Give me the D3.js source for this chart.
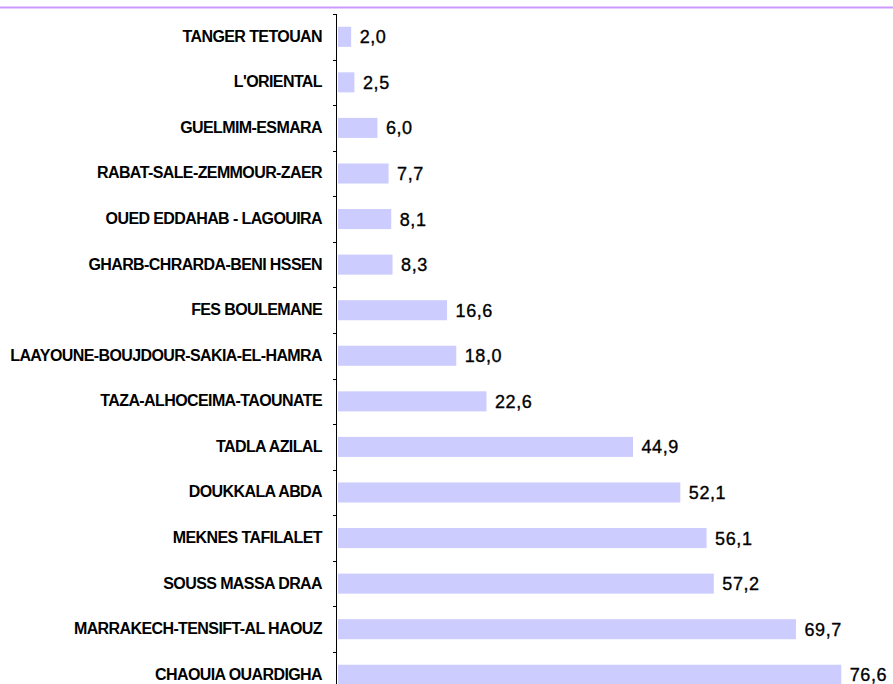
<!DOCTYPE html>
<html lang="fr">
<head>
  <meta charset="UTF-8" />
  <title>Régions</title>
  <script src="https://d3js.org/d3.v7.min.js"></script>
  <style>
    body {
      margin: 0;
      background: #fff;
    }
    svg {
      display: block;
    }
    .cat-label {
      font-family: "Liberation Sans", Arial, sans-serif;
      font-weight: bold;
      font-size: 16px;
      letter-spacing: -0.6px;
    }
    .val-label {
      font-family: "Liberation Sans", Arial, sans-serif;
      font-size: 18px;
      letter-spacing: 0.6px;
      stroke: #000;
      stroke-width: 0.35px;
    }
  </style>
</head>
<body>
  <div id="chart"></div>
  <script>
    const regions = [
      "TANGER TETOUAN",
      "L'ORIENTAL",
      "GUELMIM-ESMARA",
      "RABAT-SALE-ZEMMOUR-ZAER",
      "OUED EDDAHAB - LAGOUIRA",
      "GHARB-CHRARDA-BENI HSSEN",
      "FES BOULEMANE",
      "LAAYOUNE-BOUJDOUR-SAKIA-EL-HAMRA",
      "TAZA-ALHOCEIMA-TAOUNATE",
      "TADLA AZILAL",
      "DOUKKALA ABDA",
      "MEKNES TAFILALET",
      "SOUSS MASSA DRAA",
      "MARRAKECH-TENSIFT-AL HAOUZ",
      "CHAOUIA OUARDIGHA"
    ];
    const values = [2.0, 2.5, 6.0, 7.7, 8.1, 8.3, 16.6, 18.0, 22.6, 44.9, 52.1, 56.1, 57.2, 69.7, 76.6];

    const W = 893, H = 684;
    const axisX = 336;

    const svg = d3.select("#chart")
      .append("svg")
      .attr("width", W)
      .attr("height", H);

    // ligne violette en haut
    svg.append("line")
      .attr("x1", 0).attr("x2", W)
      .attr("y1", 7.5).attr("y2", 7.5)
      .attr("stroke", "#cc99ff")
      .attr("stroke-width", 2);

    const data = regions.map((r, i) => ({ region: r, value: values[i] }));

    const y = d3.scaleBand()
      .domain(regions)
      .range([14, 14 + 15 * 45.57])
      .paddingInner(0.56)
      .paddingOuter(0.28);

    const x = d3.scaleLinear()
      .domain([0, 80])
      .range([338, 338 + 80 * 6.57]);

    const gap = (y.step() - y.bandwidth()) / 2;

    // barres
    svg.selectAll(".bar")
      .data(data)
      .enter()
      .append("rect")
      .attr("class", "bar")
      .attr("x", x(0))
      .attr("y", d => y(d.region))
      .attr("width", d => x(d.value) - x(0))
      .attr("height", y.bandwidth())
      .attr("fill", "#ccccff");

    // axe vertical
    const axis = svg.append("g").attr("stroke", "#000").attr("shape-rendering", "crispEdges");
    axis.append("line")
      .attr("x1", axisX + 0.5).attr("x2", axisX + 0.5)
      .attr("y1", y.range()[0]).attr("y2", H);
    axis.selectAll(".tick")
      .data(regions)
      .enter()
      .append("line")
      .attr("class", "tick")
      .attr("x1", axisX - 3).attr("x2", axisX + 0.5)
      .attr("y1", d => Math.round(y(d) - gap) + 0.5)
      .attr("y2", d => Math.round(y(d) - gap) + 0.5);

    // étiquettes des régions
    svg.selectAll(".cat-label")
      .data(data)
      .enter()
      .append("text")
      .attr("class", "cat-label")
      .attr("x", 322)
      .attr("y", d => y(d.region) + y.bandwidth() / 2 + 5)
      .attr("text-anchor", "end")
      .text(d => d.region);

    // valeurs
    const fmt = d3.formatLocale({ decimal: ",", thousands: " ", grouping: [3], currency: ["", ""] }).format(".1f");
    svg.selectAll(".val-label")
      .data(data)
      .enter()
      .append("text")
      .attr("class", "val-label")
      .attr("x", d => x(d.value) + 8.5)
      .attr("y", d => y(d.region) + y.bandwidth() / 2 + 6.5)
      .text(d => fmt(d.value));
  </script>
</body>
</html>
